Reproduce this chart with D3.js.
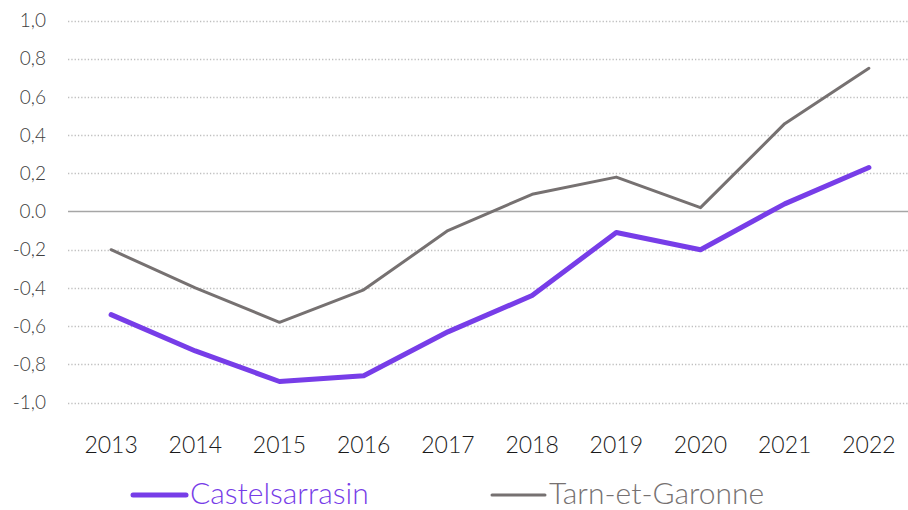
<!DOCTYPE html>
<html><head><meta charset="utf-8">
<script src="https://cdn.jsdelivr.net/npm/d3@7"></script>
<style>body{margin:0;background:#fff;}svg{display:block;}</style>
</head><body>
<svg id="c" width="908" height="510"></svg>
<script>
const years = ["2013","2014","2015","2016","2017","2018","2019","2020","2021","2022"];
const castelsarrasin = [-0.54,-0.73,-0.89,-0.86,-0.63,-0.44,-0.11,-0.20,0.04,0.23];
const tarnEtGaronne = [-0.20,-0.40,-0.58,-0.41,-0.10,0.09,0.18,0.02,0.46,0.75];
const yTicks = [1.0,0.8,0.6,0.4,0.2,0.0,-0.2,-0.4,-0.6,-0.8,-1.0];
const yTickLabels = ["1,0","0,8","0,6","0,4","0,2","0.0","-0,2","-0,4","-0,6","-0,8","-1,0"];
const seriesNames = ["Castelsarrasin","Tarn-et-Garonne"];

const svg = d3.select("#c");
const font = "Lato, 'Open Sans', sans-serif";
const x = d3.scaleBand().domain(years).range([69, 911]);
const y = d3.scaleLinear().domain([-1, 1]).range([402.5, 20.5]);

// gridlines
svg.append("g").selectAll("line").data(yTicks.filter(d => d !== 0)).join("line")
  .attr("x1", 68).attr("x2", 908)
  .attr("y1", d => Math.round(y(d)) + 0.5).attr("y2", d => Math.round(y(d)) + 0.5)
  .attr("stroke", "#bfbfbf").attr("stroke-width", 1.3).attr("stroke-dasharray", "1.3,2");
// zero line
svg.append("line").attr("x1", 68).attr("x2", 908)
  .attr("y1", y(0)).attr("y2", y(0)).attr("stroke", "#a6a6a6").attr("stroke-width", 1.5);

// y labels
svg.append("g").selectAll("text").data(yTicks).join("text")
  .attr("x", 46).attr("y", d => y(d)).attr("dy", "0.35em")
  .attr("text-anchor", "end").attr("font-family", font).attr("font-weight", 300)
  .attr("font-size", 19).attr("fill", "#404040")
  .text((d, i) => yTickLabels[i]);

// x labels
svg.append("g").selectAll("text").data(years).join("text")
  .attr("x", d => x(d) + x.bandwidth() / 2).attr("y", 453)
  .attr("text-anchor", "middle").attr("font-family", font).attr("font-weight", 300)
  .attr("font-size", 23).attr("fill", "#1a1a1a")
  .text(d => d);

const line = d3.line().x((d, i) => x(years[i]) + x.bandwidth() / 2).y(d => y(d));
svg.append("path").datum(tarnEtGaronne).attr("d", line)
  .attr("fill", "none").attr("stroke", "#767171").attr("stroke-width", 3).attr("stroke-linejoin", "round").attr("stroke-linecap", "round");
svg.append("path").datum(castelsarrasin).attr("d", line)
  .attr("fill", "none").attr("stroke", "#773de8").attr("stroke-width", 5).attr("stroke-linejoin", "round").attr("stroke-linecap", "round");

// legend
const legend = [
  {name: seriesNames[0], color: "#773de8", w: 5, x1: 133, x2: 186, tx: 190},
  {name: seriesNames[1], color: "#767171", w: 3, x1: 492, x2: 545, tx: 549}
];
const lg = svg.append("g").selectAll("g").data(legend).join("g");
lg.append("line").attr("x1", d => d.x1).attr("x2", d => d.x2).attr("y1", 495).attr("y2", 495)
  .attr("stroke", d => d.color).attr("stroke-width", d => d.w).attr("stroke-linecap", "round");
lg.append("text").attr("x", d => d.tx).attr("y", 504)
  .attr("font-family", font).attr("font-weight", 300).attr("font-size", 30)
  .attr("fill", d => d.color).text(d => d.name);
</script>
</body></html>
